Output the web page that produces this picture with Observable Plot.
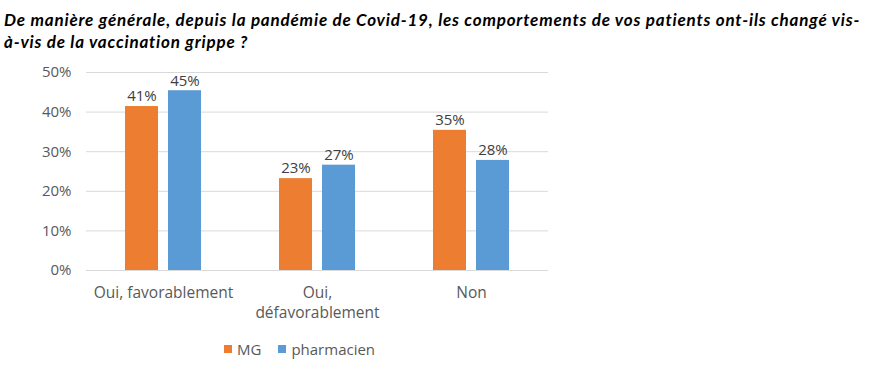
<!DOCTYPE html>
<html><head><meta charset="utf-8">
<script src="https://cdn.jsdelivr.net/npm/d3@7"></script>
<script src="https://cdn.jsdelivr.net/npm/@observablehq/plot@0.6"></script>
<style>
body{margin:0;background:#fff;width:882px;height:368px;overflow:hidden;position:relative;font-family:"Open Sans",sans-serif;}
#title{position:absolute;left:4px;top:9px;font-family:Lato,sans-serif;font-weight:bold;font-style:italic;font-size:17px;line-height:22px;color:#000;white-space:nowrap;}
#title div{display:block;}
#chart{position:absolute;left:0;top:58px;}
#legend{position:absolute;top:339px;left:224px;font-size:15px;color:#595959;display:flex;align-items:center;}
#legend span.sw{display:inline-block;width:8px;height:8px;margin-right:5px;}
#legend span.lab{margin-right:17px;}
</style></head>
<body>
<div id="title"></div>
<div id="chart"></div>
<div id="legend"></div>
<script>
const titleLines = ["De manière générale, depuis la pandémie de Covid-19, les comportements de vos patients ont-ils changé vis-", "à-vis de la vaccination grippe ?"];
const categories = ["Oui, favorablement", "Oui,\ndéfavorablement", "Non"];
const series = ["MG", "pharmacien"];
const mgValues = [41.4, 23.2, 35.4];
const pharmacienValues = [45.4, 26.6, 27.8];
const valueLabels = {MG: ["41%", "23%", "35%"], pharmacien: ["45%", "27%", "28%"]};
const yTicks = [0, 10, 20, 30, 40, 50];
const colors = ["#ED7D31", "#5B9BD5"];

const titleEl = document.getElementById("title");
titleLines.forEach(t => { const d = document.createElement("div"); d.textContent = t; titleEl.appendChild(d); });
// fit first line to the reference's title width
const first = titleEl.firstChild;
const span = document.createElement("span"); span.textContent = titleLines[0]; first.textContent = ""; first.appendChild(span);
const w = span.getBoundingClientRect().width;
const ls = (856 - w) / titleLines[0].length;
titleEl.style.letterSpacing = ls + "px";

const data = [];
categories.forEach((c, i) => {
  data.push({category: c, series: "MG", value: mgValues[i], label: valueLabels.MG[i]});
  data.push({category: c, series: "pharmacien", value: pharmacienValues[i], label: valueLabels.pharmacien[i]});
});

const plot = Plot.plot({
  width: 882,
  height: 267,
  marginTop: 14,
  marginBottom: 55,
  marginLeft: 85,
  marginRight: 334,
  style: {fontFamily: "'Open Sans', sans-serif", fontSize: "15px", color: "#595959", background: "transparent"},
  fx: {domain: categories, padding: 0, axis: null},
  x: {domain: series, paddingInner: 0.227, paddingOuter: 0.864, axis: null},
  y: {domain: [0, 50], axis: null},
  color: {domain: series, range: colors},
  marks: [
    Plot.ruleY(yTicks, {stroke: "#D9D9D9", strokeWidth: 1}),
    Plot.barY(data, {fx: "category", x: "series", y: "value", fill: "series"}),
    Plot.text(data, {fx: "category", x: "series", y: "value", text: "label", dy: -10, fill: "#404040", fontSize: 15}),
    Plot.axisY({ticks: yTicks, tickFormat: d => d + "%", tickSize: 0, tickPadding: 15, fill: "#595959", fontSize: 15, label: null, facetAnchor: "left"}),
    Plot.text(categories, {fx: d => d, text: d => d, frameAnchor: "bottom", lineAnchor: "top", dy: 13, fill: "#595959", fontSize: 15.5, lineHeight: 1.3})
  ]
});
document.getElementById("chart").appendChild(plot);

const legend = document.getElementById("legend");
series.forEach((s, i) => {
  legend.innerHTML += `<span class="sw" style="background:${colors[i]}"></span><span class="lab">${s}</span>`;
});
</script>
</body></html>
